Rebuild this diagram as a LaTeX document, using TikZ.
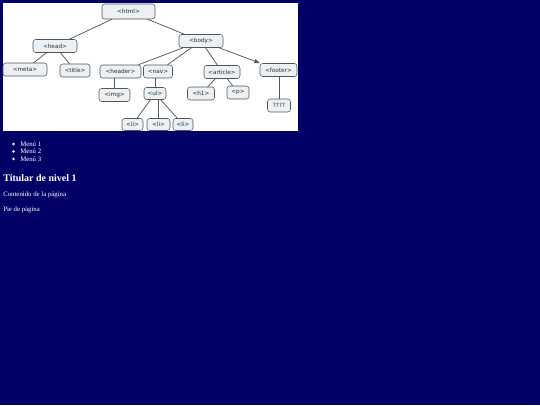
\documentclass[tikz,border=0pt]{standalone}
\usepackage{fontspec}
\setmainfont{Liberation Serif}
\newfontfamily\tagfont{DejaVu Sans}
\usetikzlibrary{arrows.meta}

\definecolor{pagebg}{RGB}{0,0,102}
\definecolor{tagfill}{RGB}{236,241,245}
\definecolor{tagline}{RGB}{85,85,85}
\definecolor{tagtext}{RGB}{45,45,45}

\tikzset{
  tag/.style={draw=tagline, fill=tagfill, rounded corners=2pt, text=tagtext,
    font=\tagfont\fontsize{4.3pt}{5pt}\selectfont, inner sep=0pt, minimum height=9.75pt},
  link/.style={draw=tagline, line width=0.55pt},
  pagetext/.style={text=white, anchor=west, inner sep=0pt, font=\fontsize{5.1pt}{6pt}\selectfont}
}

\begin{document}
\begin{tikzpicture}[x=0.75pt,y=-0.75pt]
   \fill [pagebg] (0,0) rectangle (540,405);
   \useasboundingbox (0,0) rectangle (540,405);
   \fill [white] (3,3) rectangle (298,131);

   % Tree of the page
   \node [tag, minimum width=39.75pt, minimum height=11.25pt] (html) at (128.5,11.5) {<html>};
   \node [tag, minimum width=33pt] (head) at (55,46) {<head>};
   \node [tag, minimum width=33pt] (body) at (201,41) {<body>};
   \node [tag, minimum width=33pt] (meta) at (25,69.5) {<meta>};
   \node [tag, minimum width=22.5pt] (title) at (75,70.5) {<title>};
   \node [tag, minimum width=30.75pt] (header) at (120.5,71.5) {<header>};
   \node [tag, minimum width=21.75pt] (nav) at (158,71.5) {<nav>};
   \node [tag, minimum width=27pt] (article) at (222,72) {<article>};
   \node [tag, minimum width=27.75pt] (footer) at (278.5,70) {<footer>};
   \node [tag, minimum width=23.25pt] (img) at (114.5,95) {<img>};
   \node [tag, minimum width=16.5pt, minimum height=9pt] (ul) at (155,93.5) {<ul>};
   \node [tag, minimum width=20.25pt] (h1) at (201,93.5) {<h1>};
   \node [tag, minimum width=16.5pt] (p) at (238,92.5) {<p>};
   \node [tag, minimum width=17.25pt] (unknown) at (279,105.5) {????};
   \node [tag, minimum width=15.75pt, minimum height=9pt] (li1) at (132.5,124.5) {<li>};
   \node [tag, minimum width=17.25pt, minimum height=9pt] (li2) at (158.5,124.5) {<li>};
   \node [tag, minimum width=15pt, minimum height=9pt] (li3) at (183,124.5) {<li>};

   % Links
   \draw [link] (html) -- (head);
   \draw [link] (html) -- (body);
   \draw [link] (head) -- (meta);
   \draw [link] (head) -- (title);
   \draw [link] (body) -- (header);
   \draw [link] (body) -- (nav);
   \draw [link] (body) -- (article);
   \draw [link, -{Latex[length=4.5pt,width=3.5pt]}] (body) -- (footer);
   \draw [link] (header.south -| img) -- (img);
   \draw [link] (nav.south -| ul) -- (ul);
   \draw [link] (ul) -- (li1);
   \draw [link] (ul.south -| li2) -- (li2);
   \draw [link] (ul) -- (li3);
   \draw [link] (article) -- (h1);
   \draw [link] (article) -- (p);
   \draw [link] (footer.south -| unknown) -- (unknown);

   % Page content
   \foreach \y/\n in {144/1, 151.5/2, 159/3} {
     \fill [white] (13.5,\y) circle (1pt);
     \node [pagetext] (menu\n) at (20,\y) {Menú \n};
   }
   \node [pagetext, font=\bfseries\fontsize{7.5pt}{9pt}\selectfont] (titular) at (3,178) {Titular de nivel 1};
   \node [pagetext] (contenido) at (3,195) {Contenido de la página};
   \node [pagetext] (pie) at (3,210) {Pie de página};
\end{tikzpicture}
\end{document}
